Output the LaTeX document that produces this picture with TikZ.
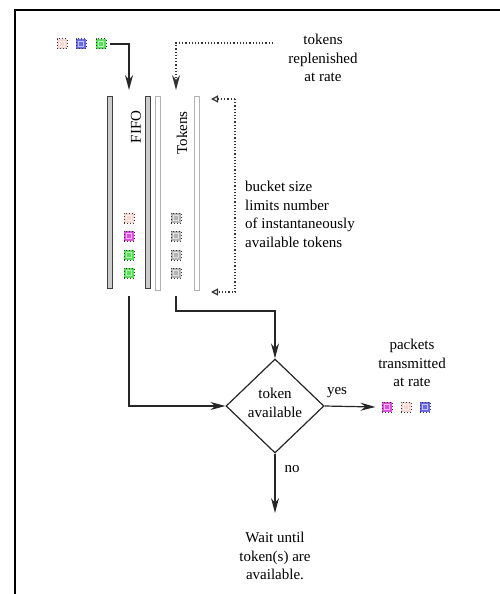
\documentclass[tikz,border=0pt]{standalone}
\usepackage{fontspec}
\setmainfont{Liberation Serif}
\usetikzlibrary{arrows.meta,shapes.geometric}
\definecolor{pktpink}{HTML}{F6D6D0}
\definecolor{pktblue}{HTML}{6A6AE6}
\definecolor{pktgreen}{HTML}{55E055}
\definecolor{pktmag}{HTML}{E050E0}
\definecolor{tokgray}{HTML}{B4B4B4}
\begin{document}
\begin{tikzpicture}[x=1pt,y=-1pt,
  txt/.style={font=\fontsize{15}{18.5}\selectfont, inner sep=0pt, align=center},
  pkt/.style={draw=black!80, dotted, line width=1pt, minimum size=10pt,
    inner sep=0pt, fill=#1,
    path picture={\draw[solid, white!60!#1, line width=0.6pt]
      ([shift={(-2.4pt,-2.4pt)}]path picture bounding box.center) rectangle
      ([shift={(2.4pt,2.4pt)}]path picture bounding box.center);}},
  fifobar/.style={draw=black!75, fill=black!20, line width=0.9pt,
    minimum width=4.5pt, minimum height=192pt, inner sep=0pt},
  tokbar/.style={draw=black!30, fill=white, line width=0.9pt,
    minimum width=4.5pt, minimum height=194pt, inner sep=0pt},
  flow/.style={draw=black!85, line width=1.2pt, -{Stealth[length=15pt,width=8pt]}},
  dotflow/.style={draw=black!80, dotted, line width=1.2pt},
  opentip/.style={-{Triangle[open,length=7pt,width=7pt]}}
]
\useasboundingbox (0,0) rectangle (500,594);

% outer frame
\draw[line width=1.8pt] (15,594) -- (15,10) -- (500,10);

% incoming packets
\node[pkt=pktpink]  (in1) at (62,44) {};
\node[pkt=pktblue]  (in2) at (81,44) {};
\node[pkt=pktgreen] (in3) at (101,44) {};
\coordinate (fifoin) at (129,90);
\draw[flow] (in3.east) ++(3,0) -| (fifoin);

% token replenishment
\node[txt] (repl) at (323,58) {tokens\\replenished\\at rate};
\coordinate (replstart) at (273,43);
\coordinate (tokin) at (176,90);
\draw[dotflow, -{Stealth[length=15pt,width=8pt]}] (replstart) -| (tokin);

% FIFO and token bucket walls
\node[fifobar] (fifoL) at (110,192) {};
\node[fifobar] (fifoR) at (148,192) {};
\node[tokbar]  (tokL)  at (158,193) {};
\node[tokbar]  (tokR)  at (197,193) {};
\node[txt, rotate=90] (fifolab) at (136,127) {FIFO};
\node[txt, rotate=90] (toklab)  at (182,133) {Tokens};

% queued packets
\node[pkt=pktpink]  (q1) at (129,218) {};
\node[pkt=pktmag]   (q2) at (129,236) {};
\node[pkt=pktgreen] (q3) at (129,255) {};
\node[pkt=pktgreen] (q4) at (129,273) {};
% available tokens
\node[pkt=tokgray] (t1) at (176,218) {};
\node[pkt=tokgray] (t2) at (176,236) {};
\node[pkt=tokgray] (t3) at (176,255) {};
\node[pkt=tokgray] (t4) at (176,273) {};

% bucket size bracket
\coordinate (bktop) at (211,99);
\coordinate (bkbot) at (211,292);
\coordinate (bkcorner) at (235,99);
\draw[dotflow, opentip] (bkcorner) -- (bktop);
\draw[dotflow, opentip] (bkcorner) -- (235,292) -- (bkbot);
\node[txt, align=left, anchor=west] (bktext) at (245,214.5)
  {bucket size\\limits number\\of instantaneously\\available tokens};

% decision
\node[draw=black!85, line width=1.2pt, diamond, minimum width=98pt, minimum height=94pt,
  inner sep=0pt] (dec) at (275,406) {};
\node[txt] (declab) at (275,403) {token\\available};

\coordinate (fifoout) at (129,296);
\coordinate (tokout) at (176,296);
\draw[flow] (fifoout) |- (dec.west);
\draw[flow] (tokout) -- (176,311) -| (dec.north);

% yes branch
\node[pkt=pktmag]  (o1) at (387,407) {};
\node[pkt=pktpink] (o2) at (406,407) {};
\node[pkt=pktblue] (o3) at (425,407) {};
\draw[flow] (dec.east) -- ([xshift=-6pt]o1.west);
\node[txt] (yes) at (337,393) {yes};
\node[txt] (sent) at (412,363) {packets\\transmitted\\at rate};

% no branch
\node[txt] (wait) at (275,556) {Wait until\\token(s) are\\available.};
\draw[flow] (dec.south) -- (275,513);
\node[txt] (no) at (292,469) {no};
\end{tikzpicture}
\end{document}
